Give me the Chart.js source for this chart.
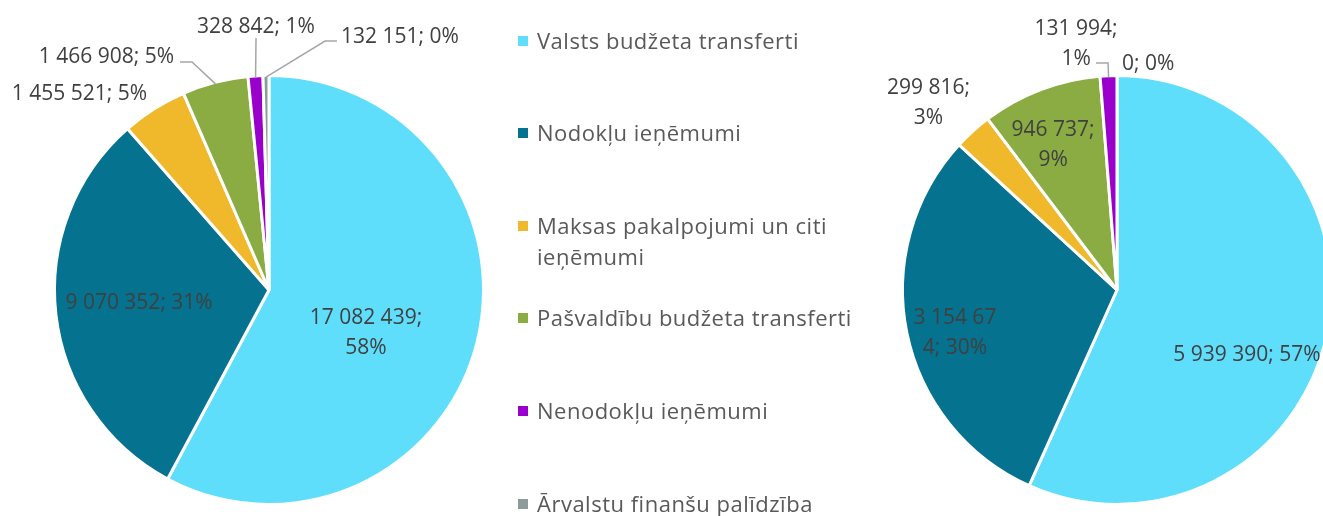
<!DOCTYPE html>
<html lang="lv">
<head>
<meta charset="utf-8">
<title>Ieņēmumu struktūra</title>
<script src="https://cdn.jsdelivr.net/npm/chart.js@4.4.1/dist/chart.umd.min.js"></script>
<style>
  html, body { margin: 0; padding: 0; background: #fff; }
  body { width: 1323px; height: 516px; overflow: hidden; position: relative; font-family: "Open Sans", sans-serif; }
  canvas.pie { position: absolute; left: 0; top: 0; }
  #legend { position: absolute; left: 0; top: 0; width: 1323px; height: 516px; pointer-events: none; }
  .item { position: absolute; left: 518px; line-height: 31px; font-size: 22px; letter-spacing: 0.5px; color: #595959; white-space: nowrap; }
  .item .sw { position: absolute; left: 0; top: 11px; width: 10px; height: 10px; }
  .item .tx { position: absolute; left: 19px; top: 0; }
</style>
</head>
<body>
<canvas id="pieA" class="pie" width="1323" height="516"></canvas>
<canvas id="pieB" class="pie" width="1323" height="516"></canvas>
<div id="legend"></div>
<script>
// Ieņēmumu kategorijas
const categories = [
  'Valsts budžeta transferti',
  'Nodokļu ieņēmumi',
  'Maksas pakalpojumi un citi ieņēmumi',
  'Pašvaldību budžeta transferti',
  'Nenodokļu ieņēmumi',
  'Ārvalstu finanšu palīdzība'
];
// Legend text lines (long name wraps onto two lines)
const legendLines = [
  ['Valsts budžeta transferti'],
  ['Nodokļu ieņēmumi'],
  ['Maksas pakalpojumi un citi', 'ieņēmumi'],
  ['Pašvaldību budžeta transferti'],
  ['Nenodokļu ieņēmumi'],
  ['Ārvalstu finanšu palīdzība']
];
// Values, EUR
const valuesA = [17082439, 9070352, 1455521, 1466908, 328842, 132151];
const valuesB = [5939390, 3154674, 299816, 946737, 131994, 0];

const colors = ['#5FDEFC', '#05728F', '#F0B92C', '#8AAC42', '#9900CC', '#8C9C9B'];

// Label placement, in units of pie radius relative to the pie centre
const labelPosA = [[0.455, 0.197], [-0.61, 0.052], [-0.89, -0.925], [-0.763, -1.103], [-0.061, -1.244], [0.615, -1.197]];
const labelPosB = [[0.610, 0.296], [-0.761, 0.197], [-0.885, -0.887], [-0.300, -0.690], [-0.192, -1.160], [0.146, -1.070]];
// Character index where a label wraps to a second line (0 = single line)
const labelBreakA = [11, 0, 0, 0, 0, 0];
const labelBreakB = [0, 8, 8, 8, 8, 0];
// Leader line bends (after the slice edge point), radius units
const leadersA = [null, null, null,
  [[-0.3615, -1.0704], [-0.4178, -1.0704]],
  [[-0.061, -1.183]],
  [[0.263, -1.169], [0.319, -1.169]]];
const leadersB = [null, null, null, null,
  [[-0.042, -1.066], [-0.0986, -1.066]],
  null];

const REF_R = 213;      // visible pie radius
const FONT_PX = 21;
const LINE_GAP = 30;

function fmtNum(v) {
  return String(v).replace(/\B(?=(\d{3})+(?!\d))/g, ' ');
}

const sliceLabels = {
  id: 'sliceLabels',
  afterDatasetsDraw(chart, args, opts) {
    const ctx = chart.ctx;
    const meta = chart.getDatasetMeta(0);
    const data = chart.data.datasets[0].data;
    const total = data.reduce((a, b) => a + b, 0);
    ctx.save();
    meta.data.forEach((arc, i) => {
      const p = arc.getProps(['x', 'y', 'startAngle', 'endAngle'], true);
      const R = opts.radius;
      const ld = opts.leaders[i];
      if (ld) {
        const mid = (p.startAngle + p.endAngle) / 2;
        ctx.beginPath();
        ctx.moveTo(p.x + Math.cos(mid) * R, p.y + Math.sin(mid) * R);
        ld.forEach(([px, py]) => ctx.lineTo(p.x + px * R, p.y + py * R));
        ctx.strokeStyle = '#A6A6A6';
        ctx.lineWidth = 1.5;
        ctx.stroke();
      }
      const text = fmtNum(data[i]) + '; ' + Math.round(data[i] / total * 100) + '%';
      const br = opts.breaks[i];
      const lines = br ? [text.slice(0, br).trim(), text.slice(br).trim()] : [text];
      const [ox, oy] = opts.pos[i];
      const cx = p.x + ox * R;
      const cy = p.y + oy * R;
      ctx.font = FONT_PX + 'px "Open Sans", sans-serif';
      ctx.fillStyle = '#404040';
      ctx.textAlign = 'center';
      ctx.textBaseline = 'alphabetic';
      const n = lines.length;
      lines.forEach((ln, k) => {
        const lc = cy + (k - (n - 1) / 2) * LINE_GAP;
        ctx.fillText(ln, cx, lc + 0.357 * FONT_PX);
      });
    });
    ctx.restore();
  }
};

function makePie(id, values, padding, pos, breaks, leaders) {
  return new Chart(document.getElementById(id), {
    type: 'pie',
    data: {
      labels: categories,
      datasets: [{
        data: values,
        backgroundColor: colors,
        borderColor: '#FFFFFF',
        borderWidth: 3,
        clip: false
      }]
    },
    options: {
      responsive: false,
      animation: false,
      events: [],
      radius: REF_R + 1.5,
      layout: { padding: padding },
      plugins: {
        legend: { display: false },
        tooltip: { enabled: false },
        sliceLabels: { radius: REF_R, pos: pos, breaks: breaks, leaders: leaders }
      }
    },
    plugins: [sliceLabels]
  });
}

makePie('pieA', valuesA, { left: 54, right: 839, top: 75, bottom: 11 }, labelPosA, labelBreakA, leadersA);
makePie('pieB', valuesB, { left: 917, right: 6, top: 90, bottom: 26 }, labelPosB, labelBreakB, leadersB);

// Legend in the middle column
const legendTopFirst = 40;   // centre of first line of first entry
const legendPitch = 92.6;
const legendEl = document.getElementById('legend');
categories.forEach((name, i) => {
  const item = document.createElement('div');
  item.className = 'item';
  item.style.top = (legendTopFirst + i * legendPitch - 15.5) + 'px';
  const sw = document.createElement('span');
  sw.className = 'sw';
  sw.style.background = colors[i];
  const tx = document.createElement('span');
  tx.className = 'tx';
  tx.innerHTML = legendLines[i].map(s => s.replace(/&/g, '&amp;').replace(/</g, '&lt;')).join('<br>');
  item.appendChild(sw);
  item.appendChild(tx);
  legendEl.appendChild(item);
});
</script>
</body>
</html>
